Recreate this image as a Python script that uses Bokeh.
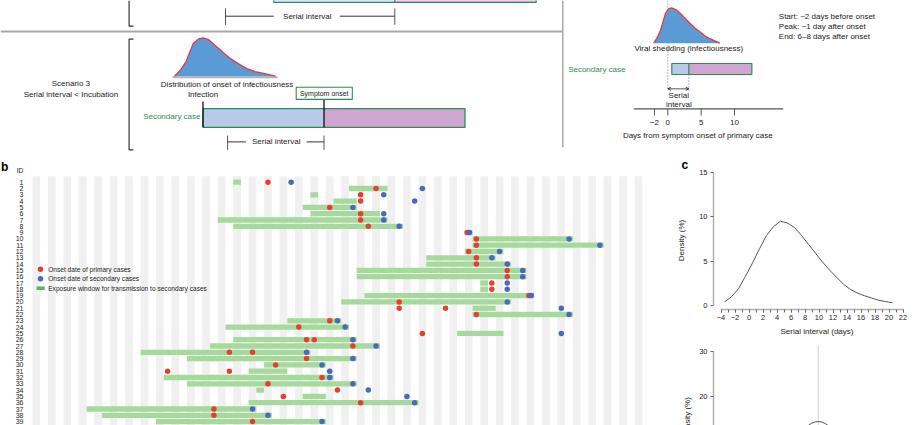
from bokeh.plotting import figure
from bokeh.models import Range1d, LinearAxis, FixedTicker, Title, Arrow, OpenHead
from bokeh.layouts import column, row
from bokeh.embed import file_html
from bokeh.resources import INLINE
from bokeh.core.properties import value

FONT = "Liberation Sans"
TXT = "#222222"
GREEN_TXT = "#2e8b57"
BOX_BLUE = "#b7cbe9"
BOX_PURPLE = "#cfa6d0"
CURVE_BLUE = "#5b9bd5"
CURVE_RED = "#e8383d"
SEP_GRAY = "#a8a8a8"

# ---------------- panel b data ----------------
ids = list(range(1, 40))
window_start = [26, 41, 36, 39, 35, 36, 24, 26, 56, 57, 57, 56, 51, 51, 42, 42, 58, 58, 43, 40,
                57, 57, 33, 25, 55, 26, 23, 14, 20, 30, 28, 17, 20, 29, 35, 28, 7, 9, 16]
window_end = [26, 45, 36, 41, 41, 44, 45, 47, 56, 69, 73, 60, 59, 61, 63, 63, 58, 58, 64, 61,
              59, 69, 39, 40, 60, 41, 44, 35, 41, 37, 32, 38, 41, 29, 37, 49, 28, 30, 37]
primary_onset = [[30], [44], [42], [42], [38], [42], [42], [43], [55.8], [57], [57], [56], [57],
                 [57], [61], [61], [59], [59], [63.8], [47], [47, 53], [57], [38], [34], [50],
                 [35, 36], [41], [25, 28], [35], [31], [17, 25], [37], [30], [39], [32], [42],
                 [23], [23], [28]]
secondary_onset = [33, 50, 45, 49, 41, 45, 45, 47, 56.1, 69, 73, 60, 59, 61, 63, 63, 61, 61, 64.1,
                   61, 68, 69, 39, 40, 68, 41, 44, 35, 41, 37, 38, 38, 41, 43, 48, 49, 28, 30, 37]
n_days = 79
legend_labels = ["Onset date of primary cases", "Onset date of secondary cases",
                 "Exposure window for transmission to secondary cases"]

# ---------------- panel c data ----------------
si_days = [-3.5, -2.5, -1.5, -0.5, 0.5, 1.5, 2.5, 3.5, 4.5, 5.5, 6.5, 7.5, 8.5, 9.5, 10.5, 11.5,
           12.5, 13.5, 14.5, 15.5, 16.5, 17.5, 18.5, 19.5, 20.5]
si_density = [0.4, 1.0, 1.9, 3.3, 4.8, 6.4, 7.9, 8.9, 9.5, 9.3, 8.8, 7.9, 6.9, 5.9, 4.9, 4.0,
              3.2, 2.4, 1.8, 1.4, 1.1, 0.85, 0.6, 0.45, 0.3]
si_xticks = [-4, -2, 0, 2, 4, 6, 8, 10, 12, 14, 16, 18, 20, 22]
si_yticks = [0, 5, 10, 15]
c2_days = [-1.5, -1.0, -0.5, 0.0, 0.5, 1.0, 1.5]
c2_density = [13.3, 13.85, 14.2, 14.3, 14.2, 13.85, 13.3]
c2_yticks = [0, 10, 20, 30]

# ---------------- panel a schematic data ----------------
s3_curve_t = [-1.425, -1.1, -0.84, -0.48, -0.2, 0.055, 0.3, 0.59, 0.95, 1.305, 1.75, 2.195, 2.6, 3.09, 3.625]
s3_curve_h = [0, 0.18, 0.39, 0.86, 0.98, 1.0, 0.95, 0.81, 0.65, 0.49, 0.33, 0.2, 0.12, 0.065, 0]
s3_infection, s3_symptom, s3_end, s3_si_start = 0.0, 6.05, 13.1, 1.23
s2_box_start, s2_box_mid, s2_box_end, s2_si_start = 3.535, 9.59, 16.66, 1.125
shed_days = [-2.1, -1.6, -1.1, -0.35, 0.1, 0.55, 1.2, 1.9, 2.6, 3.4, 4.1, 4.9, 5.6, 6.4, 7.1, 7.8]
shed_level = [0, 0.15, 0.36, 0.84, 0.97, 1.0, 0.95, 0.84, 0.7, 0.55, 0.42, 0.31, 0.2, 0.12, 0.06, 0]
sec_start, sec_symptom, sec_end = 0.6, 3.15, 12.6
axis_days_ticks = [-2, 0, 5, 10]
axis_days_labels = ["\u22122", "0", "5", "10"]
shed_notes = ["Start: ~2 days before onset", "Peak: ~1 day after onset", "End: 6\u20138 days after onset"]

W, H = 920, 425


def base_fig(w, h, xr, yr, **kw):
    p = figure(width=w, height=h, x_range=xr, y_range=yr, output_backend="svg",
               toolbar_location=None, x_axis_location=None, y_axis_location=None,
               outline_line_color=None, background_fill_color="white",
               border_fill_color="white", **kw)
    for g in p.grid:
        g.visible = False
    return p


def txt(p, x, y, s, size="8px", align="center", color=TXT, style="normal", angle=0, **kw):
    p.text(x=[x], y=[y], text=[s], text_font=value(FONT), text_font_size=value(size),
           text_align=align, text_baseline="middle", text_color=color,
           text_font_style=style, angle=angle, **kw)


# ================= panel a =================
TOP_H = 155
pa = base_fig(W, TOP_H, Range1d(0, W), Range1d(TOP_H, 0), min_border=0)
pa.extra_x_ranges = {"sday": Range1d((0 - 667.3) / 6.67, (W - 667.3) / 6.67),
                     "s3": Range1d((0 - 202.5) / 20.0, (W - 202.5) / 20.0)}
pa.extra_y_ranges = {"shed": Range1d((42.7 - TOP_H) / 35.4, (42.7 - 0) / 35.4),
                     "lh": Range1d((75.7 - TOP_H) / 38.2, (75.7 - 0) / 38.2)}

LC = "#333333"
# remnants of scenario 2 (top, cut)
pa.quad(left=[s2_box_start], right=[s2_box_mid], top=[-10], bottom=[2], x_range_name="s3",
        fill_color=BOX_BLUE, line_color=GREEN_TXT, line_width=1.2)
pa.quad(left=[s2_box_mid], right=[s2_box_end], top=[-10], bottom=[2], x_range_name="s3",
        fill_color=BOX_PURPLE, line_color=GREEN_TXT, line_width=1.2)
pa.line([128.6, 128.6, 132.9], [0, 25.7, 25.7], line_color=LC, line_width=1.2)
pa.segment(x0=[s2_si_start, s2_box_mid], y0=[7.9, 7.9], x1=[s2_si_start, s2_box_mid], y1=[24.3, 24.3],
           x_range_name="s3", line_color="#555555", line_width=1)
pa.segment(x0=[225, 339.3], y0=[15.7, 15.7], x1=[273.2, 394.3], y1=[15.7, 15.7], line_color=LC, line_width=1)
txt(pa, 306.8, 15.7, "Serial interval")
# separators
pa.line([0, 562.3], [31, 31], line_color=SEP_GRAY, line_width=2)
pa.line([562.3, 562.3], [0, 146.7], line_color=SEP_GRAY, line_width=1.5)

# scenario 3
pa.line([132.9, 128.6, 128.6, 132.9], [38.6, 38.6, 149.3, 149.3], line_color=LC, line_width=1.2)
txt(pa, 70.4, 82.9, "Scenario 3")
txt(pa, 70.4, 93.6, "Serial interval < Incubation")
pa.line([s3_curve_t[0] - 0.1, s3_curve_t[-1] + 0.1], [-0.03, -0.03], x_range_name="s3", y_range_name="lh",
        line_color="#b5b5b5", line_width=2)
pa.patch(s3_curve_t, s3_curve_h, x_range_name="s3", y_range_name="lh", fill_color=CURVE_BLUE,
         line_color=None)
pa.line(s3_curve_t, s3_curve_h, x_range_name="s3", y_range_name="lh", line_color=CURVE_RED, line_width=1.3)
txt(pa, 226.6, 83.6, "Distribution of onset of infectiousness")
txt(pa, 202.5, 94.3, "Infection")
pa.quad(left=[s3_infection], right=[s3_symptom], top=[108.2], bottom=[126.8], x_range_name="s3",
        fill_color=BOX_BLUE, line_color=None)
pa.quad(left=[s3_symptom], right=[s3_end], top=[108.2], bottom=[126.8], x_range_name="s3",
        fill_color=BOX_PURPLE, line_color=None)
pa.quad(left=[s3_infection], right=[s3_end], top=[108.2], bottom=[126.8], x_range_name="s3",
        fill_color=None, line_color=GREEN_TXT, line_width=1.3)
pa.segment(x0=[s3_infection, s3_symptom], y0=[101, 98.9], x1=[s3_infection, s3_symptom], y1=[126.8, 126.8],
           x_range_name="s3", line_color="black", line_width=1.2)
pa.quad(left=[295.7], right=[351.8], top=[86.8], bottom=[98.9], fill_color="white",
        line_color=GREEN_TXT, line_width=1.1)
txt(pa, 323.7, 92.8, "Symptom onset", size="7px")
txt(pa, 200, 116.4, "Secondary case", align="right", color=GREEN_TXT)
pa.segment(x0=[s3_si_start, s3_symptom], y0=[135, 135], x1=[s3_si_start, s3_symptom], y1=[149.3, 149.3],
           x_range_name="s3", line_color="#555555", line_width=1)
pa.segment(x0=[227.1, 306], y0=[141.4, 141.4], x1=[245.4, 323.6], y1=[141.4, 141.4], line_color=LC, line_width=1)
txt(pa, 275.7, 141.4, "Serial interval")

# right schematic
pa.line([0, 0], [0, 90], x_range_name="sday", line_color="#555555", line_width=0.8, line_dash="1 2")
pa.line([sec_symptom, sec_symptom], [74, 90], x_range_name="sday", line_color="#555555", line_width=0.8,
        line_dash="1 2")
pa.patch(shed_days, shed_level, x_range_name="sday", y_range_name="shed", fill_color=CURVE_BLUE, line_color=None)
pa.line(shed_days, shed_level, x_range_name="sday", y_range_name="shed", line_color=CURVE_RED, line_width=1.3)
txt(pa, 688.3, 48.3, "Viral shedding (infectiousness)")
for i, s in enumerate(shed_notes):
    txt(pa, 778.3, 16 + 10 * i, s, align="left")
txt(pa, 625, 69.3, "Secondary case", align="right", color=GREEN_TXT)
pa.quad(left=[sec_start], right=[sec_symptom], top=[63], bottom=[74], x_range_name="sday",
        fill_color=BOX_BLUE, line_color=None)
pa.quad(left=[sec_symptom], right=[sec_end], top=[63], bottom=[74], x_range_name="sday",
        fill_color=BOX_PURPLE, line_color=None)
pa.quad(left=[sec_start], right=[sec_end], top=[63], bottom=[74], x_range_name="sday",
        fill_color=None, line_color=GREEN_TXT, line_width=1.2)
pa.segment(x0=[sec_symptom], y0=[63], x1=[sec_symptom], y1=[74], x_range_name="sday",
           line_color=GREEN_TXT, line_width=1.2)
pa.add_layout(Arrow(start=OpenHead(size=3, line_width=0.8), end=OpenHead(size=3, line_width=0.8),
                    x_start=0, y_start=88.3, x_end=sec_symptom, y_end=88.3, x_range_name="sday",
                    line_width=0.8, line_color="#333333"))
txt(pa, 678.3, 94.7, "Serial")
txt(pa, 678.3, 104, "interval")
pa.line([-5.1, 17.3], [108.3, 108.3], x_range_name="sday", line_color="#555555", line_width=1.2)
pa.segment(x0=axis_days_ticks, y0=[108.3] * 4, x1=axis_days_ticks, y1=[115] * 4, x_range_name="sday",
           line_color="#555555", line_width=1)
pa.text(x=axis_days_ticks, y=[121.7] * 4, text=axis_days_labels, x_range_name="sday",
        text_font=value(FONT), text_font_size=value("8px"), text_align="center",
        text_baseline="middle", text_color=TXT)
txt(pa, 697.3, 135, "Days from symptom onset of primary case")

# ================= panel b =================
DAY0_PX, DAY_PX = 32.0, 7.72
ROW1_PX, ROW_PX = 181.7, 6.3
B_W = 655
pb = base_fig(B_W, H - TOP_H, Range1d(0, B_W), Range1d(H, TOP_H), min_border=0)
pb.extra_x_ranges = {"day": Range1d((0 - DAY0_PX) / DAY_PX, (B_W - DAY0_PX) / DAY_PX)}
pb.extra_y_ranges = {"row": Range1d(1 + (H - ROW1_PX) / ROW_PX, 1 + (TOP_H - ROW1_PX) / ROW_PX)}

even_days = [d for d in range(n_days) if d % 2 == 0]
pb.quad(left=even_days, right=[d + 1 for d in even_days], top=[0.05] * len(even_days),
        bottom=[40.5] * len(even_days), x_range_name="day", y_range_name="row",
        fill_color="#f0f0f0", line_color=None)
pb.quad(left=window_start, right=[e + 1 for e in window_end], top=[i - 0.42 for i in ids],
        bottom=[i + 0.42 for i in ids], x_range_name="day", y_range_name="row",
        fill_color="#a6d99c", line_color=None)
px_, py_ = [], []
for i, lst in zip(ids, primary_onset):
    for d in lst:
        px_.append(d + 0.5)
        py_.append(i)
pb.scatter(px_, py_, x_range_name="day", y_range_name="row", size=5.5, fill_color="#e3412f",
           line_color=None)
pb.scatter([d + 0.5 for d in secondary_onset], ids, x_range_name="day", y_range_name="row", size=5.5,
           fill_color="#4a69bd", line_color=None)

txt(pb, 0.5, 166.5, "b", size="12px", align="left", color="black", style="bold")
txt(pb, 23, 169.5, "ID", size="6.8px", align="right")
pb.text(x=[23] * len(ids), y=ids, text=[str(i) for i in ids], y_range_name="row",
        text_font=value(FONT), text_font_size=value("7px"), text_align="right",
        text_baseline="middle", text_color=TXT)
# legend
pb.scatter([40], [268.7], size=5.5, fill_color="#e3412f", line_color=None)
pb.scatter([40], [278.3], size=5.5, fill_color="#4a69bd", line_color=None)
pb.quad(left=[36], right=[44.3], top=[286], bottom=[289.5], fill_color="#5cb85c", line_color=None)
for k, s in enumerate(legend_labels):
    txt(pb, 47.7, 268.7 + 9.5 * k, s, size="6.6px", align="left")

# ================= panel c =================
C_W = W - B_W
C1_H = 185
FR_L = 713
SI_X0_PX, SI_PXD = 720.5, 7.0
SI_Y0_PX, SI_PXU = 305.0, 8.933
FR_T, FR_B = 170, 309
c1 = base_fig(C_W, C1_H,
              Range1d(-4 + (FR_L - SI_X0_PX) / SI_PXD, -4 + (W - SI_X0_PX) / SI_PXD),
              Range1d(-(FR_B - SI_Y0_PX) / SI_PXU, (SI_Y0_PX - FR_T) / SI_PXU),
              min_border_left=FR_L - B_W, min_border_right=0, min_border_top=FR_T - TOP_H,
              min_border_bottom=TOP_H + C1_H - FR_B)
c1.line(si_days, si_density, line_color="#555555", line_width=1)


def style_axis(ax, size="7.5px"):
    ax.axis_line_color = "#b0b0b0"
    ax.axis_line_width = 1.5
    ax.major_tick_line_color = "#666666"
    ax.minor_tick_line_color = "#666666"
    ax.major_tick_in = 0
    ax.major_tick_out = 3
    ax.minor_tick_in = 0
    ax.major_label_text_font = FONT
    ax.major_label_text_font_size = size
    ax.major_label_text_color = TXT
    ax.axis_label_text_font = FONT
    ax.axis_label_text_font_size = "8px"
    ax.axis_label_text_font_style = "normal"
    ax.axis_label_text_color = TXT


xax = LinearAxis(ticker=FixedTicker(ticks=si_xticks, minor_ticks=list(range(-4, 23))), bounds=(-4, 22),
                 axis_label="Serial interval (days)")
style_axis(xax)
xax.minor_tick_out = 3
xax.major_label_standoff = 2
xax.axis_label_standoff = 4
xax.major_label_overrides = {t: str(t).replace("-", "\u2212") for t in si_xticks}
c1.add_layout(xax, "below")
yax = LinearAxis(ticker=FixedTicker(ticks=si_yticks, minor_ticks=[]), bounds=(0, 15),
                 axis_label="Density (%)")
style_axis(yax)
yax.minor_tick_out = 0
yax.major_label_standoff = 3
yax.axis_label_standoff = 10
c1.add_layout(yax, "left")
c1.add_layout(Title(text="c", align="left", offset=-32, standoff=0, text_font=FONT,
                    text_font_size="12px", text_font_style="bold", text_color="black"), "above")

# bottom c panel (cut off by the crop)
C2_H = H - TOP_H - C1_H
C2_X0_PX, C2_Y30_PX, C2_PXU = 817.7, 351.3, 4.44
C2_TOP = TOP_H + C1_H
c2 = base_fig(C_W, C2_H,
              Range1d((FR_L - C2_X0_PX) / SI_PXD, (W - C2_X0_PX) / SI_PXD),
              Range1d(30 - (H - C2_Y30_PX) / C2_PXU, 30 + (C2_Y30_PX - C2_TOP) / C2_PXU),
              min_border_left=FR_L - B_W, min_border_right=0, min_border_top=0, min_border_bottom=0)
c2.line([0, 0], [0, 31.4], line_color="#d0d0d0", line_width=1)
c2.line(c2_days, c2_density, line_color="#555555", line_width=1)
yax2 = LinearAxis(ticker=FixedTicker(ticks=c2_yticks, minor_ticks=[]), bounds=(0, 30))
style_axis(yax2)
yax2.minor_tick_out = 0
yax2.major_label_standoff = 3
c2.add_layout(yax2, "left")
c2.add_layout(Title(text="Density (%)", align="left", offset=-13, standoff=10, text_font=FONT,
                    text_font_size="8px", text_font_style="normal", text_color=TXT), "left")

layout = column(pa, row(pb, column(c1, c2, spacing=0), spacing=0), spacing=0)
open("out.html", "w").write(file_html(layout, INLINE))
